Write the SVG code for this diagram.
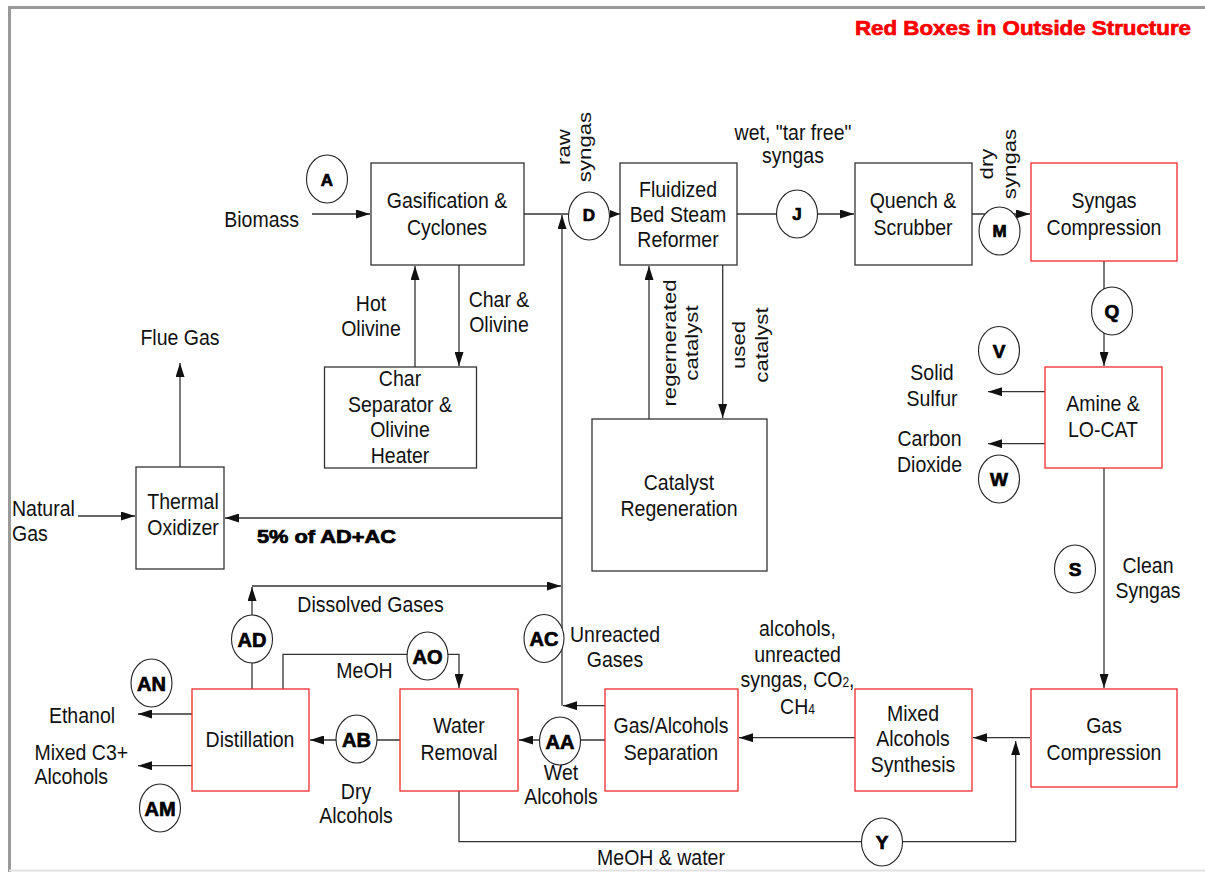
<svg xmlns="http://www.w3.org/2000/svg" width="1205" height="872" viewBox="0 0 1205 872">
<style>
.t{font-family:"Liberation Sans",Arial,sans-serif;font-size:19.5px;fill:#111}
.r{font-family:"Liberation Sans",Arial,sans-serif;font-size:19px;fill:#111}
.m{text-anchor:middle}
.bx{fill:#fff;stroke:#333;stroke-width:1.3}
.rb{fill:#fff;stroke:#ee2a2a;stroke-width:1.3}
.cl{fill:#fff;stroke:#222;stroke-width:1.1}
.lt{font-family:"Liberation Sans",Arial,sans-serif;font-weight:bold;fill:#000;stroke:#000;stroke-width:0.7;text-anchor:middle}
.s1{font-size:17px}
.s2{font-size:19px}
.s3{font-size:20px}
.ln{fill:none;stroke:#333;stroke-width:1.3}
.a{marker-end:url(#ah)}
</style>
<defs>
<marker id="ah" markerWidth="14" markerHeight="9" refX="14" refY="4.5" orient="auto" markerUnits="userSpaceOnUse"><path d="M0,0 L14,4.5 L0,9 z" fill="#111"/></marker>
<marker id="ahs" markerWidth="10" markerHeight="8" refX="10" refY="4" orient="auto" markerUnits="userSpaceOnUse"><path d="M0,0 L10,4 L0,8 z" fill="#111"/></marker>
</defs>
<rect x="0" y="0" width="1205" height="872" fill="#fff"/>
<path d="M1205,7.5 H9.5 V872" fill="none" stroke="#9a9a9a" stroke-width="3"/>
<path d="M9,870.5 H1205" fill="none" stroke="#e2e2e2" stroke-width="2"/>
<text x="855" y="35" textLength="336" lengthAdjust="spacingAndGlyphs" style="font-family:'Liberation Sans',Arial,sans-serif;font-weight:bold;font-size:20px;fill:#f00;stroke:#f00;stroke-width:0.7">Red Boxes in Outside Structure</text>

<g id="connectors">
<path class="ln a" d="M312,214 H370"/>
<path class="ln" d="M524,214 H568"/>
<path class="ln" d="M610,214 H620" marker-end="url(#ahs)"/>
<path class="ln" d="M737,214 H776"/>
<path class="ln a" d="M817,214 H854"/>
<path class="ln a" d="M972,214 H1030"/>
<path class="ln a" d="M1104,261 V366"/>
<path class="ln a" d="M1045,391.7 H988"/>
<path class="ln a" d="M1045,443.7 H988"/>
<path class="ln a" d="M1104,468 V688"/>
<path class="ln a" d="M1030,737.7 H973"/>
<path class="ln a" d="M855,737.7 H739"/>
<path class="ln a" d="M605,740 H519"/>
<path class="ln a" d="M400,740 H310"/>
<path class="ln a" d="M192,714 H138"/>
<path class="ln a" d="M192,765.7 H138"/>
<path class="ln a" d="M283,689 V654.3 H459 V688"/>
<path class="ln a" d="M252,689 V587"/>
<path class="ln a" d="M252,586 H561"/>
<path class="ln a" d="M605,705.7 H563"/>
<path class="ln a" d="M562,705.7 V215"/>
<path class="ln a" d="M562,518 H225"/>
<path class="ln a" d="M78,516 H135"/>
<path class="ln a" d="M180,467 V363"/>
<path class="ln a" d="M415,367 V266"/>
<path class="ln a" d="M459,265 V366"/>
<path class="ln a" d="M649,419 V266"/>
<path class="ln a" d="M722.7,265 V418"/>
<path class="ln a" d="M459,791 V841.7 H1015.7 V741"/>
</g>

<g id="labels">
<text class="t" text-anchor="end" transform="matrix(1,0,0,1.17,299,227)">Biomass</text>
<text class="t" transform="matrix(1,0,0,1.17,12,516)"><tspan x="0" y="0">Natural</tspan><tspan x="0" y="21.37">Gas</tspan></text>
<text class="t m" transform="matrix(1,0,0,1.17,180,345)">Flue Gas</text>
<text class="t m" transform="matrix(1,0,0,1.17,371,310.7)"><tspan x="0" y="0">Hot</tspan><tspan x="0" y="21.37">Olivine</tspan></text>
<text class="t m" transform="matrix(1,0,0,1.17,499,306.7)"><tspan x="0" y="0">Char &amp;</tspan><tspan x="0" y="21.37">Olivine</tspan></text>
<text class="r m" transform="matrix(0,-1.17,1,0,570,147)"><tspan x="0" y="0">raw</tspan><tspan x="0" y="21">syngas</tspan></text>
<text class="r m" transform="matrix(0,-1.17,1,0,993,164)"><tspan x="0" y="0">dry</tspan><tspan x="0" y="23">syngas</tspan></text>
<text class="r m" transform="matrix(0,-1.17,1,0,676,343)"><tspan x="0" y="0">regernerated</tspan><tspan x="0" y="22">catalyst</tspan></text>
<text class="r m" transform="matrix(0,-1.17,1,0,745,345)"><tspan x="0" y="0">used</tspan><tspan x="0" y="23">catalyst</tspan></text>
<text class="t m" transform="matrix(1,0,0,1.17,793,140)"><tspan x="0" y="0">wet, "tar free"</tspan><tspan x="0" y="20.09">syngas</tspan></text>
<text class="t m" transform="matrix(1,0,0,1.17,932,380)"><tspan x="0" y="0">Solid</tspan><tspan x="0" y="22.22">Sulfur</tspan></text>
<text class="t m" transform="matrix(1,0,0,1.17,929.5,445.7)"><tspan x="0" y="0">Carbon</tspan><tspan x="0" y="22.22">Dioxide</tspan></text>
<text class="t m" transform="matrix(1,0,0,1.17,1148,572.5)"><tspan x="0" y="0">Clean</tspan><tspan x="0" y="21.79">Syngas</tspan></text>
<text transform="translate(257,543)" textLength="139" lengthAdjust="spacingAndGlyphs" style="font-family:'Liberation Sans',Arial,sans-serif;font-weight:bold;font-size:18.5px;fill:#000;stroke:#000;stroke-width:0.7">5% of AD+AC</text>
<text class="t m" transform="matrix(1,0,0,1.17,370.5,611.7)">Dissolved Gases</text>
<text class="t m" transform="matrix(1,0,0,1.17,615,641.7)"><tspan x="0" y="0">Unreacted</tspan><tspan x="0" y="21.37">Gases</tspan></text>
<text class="t m" transform="matrix(1,0,0,1.17,797.5,636)"><tspan x="0" y="0">alcohols,</tspan><tspan x="0" y="22.4">unreacted</tspan><tspan x="0" y="43.6">syngas, CO<tspan style="font-size:12px">2</tspan>,</tspan><tspan x="0" y="66.7">CH<tspan style="font-size:12px">4</tspan></tspan></text>
<text class="t m" transform="matrix(1,0,0,1.17,364.5,678)">MeOH</text>
<text class="t m" transform="matrix(1,0,0,1.17,82,722.7)">Ethanol</text>
<text class="t" transform="matrix(1,0,0,1.17,34.4,760)"><tspan x="0" y="0">Mixed C3+</tspan><tspan x="0" y="20.51">Alcohols</tspan></text>
<text class="t m" transform="matrix(1,0,0,1.17,356,799)"><tspan x="0" y="0">Dry</tspan><tspan x="0" y="20.51">Alcohols</tspan></text>
<text class="t m" transform="matrix(1,0,0,1.17,561,780)"><tspan x="0" y="0">Wet</tspan><tspan x="0" y="20.51">Alcohols</tspan></text>
<text class="t m" transform="matrix(1,0,0,1.17,661,865)">MeOH &amp; water</text>
</g>

<g id="gasification">
<rect class="bx" x="371" y="163" width="153" height="102"/>
<text class="t m" transform="matrix(1,0,0,1.17,447,208)"><tspan x="0" y="0">Gasification &amp;</tspan><tspan x="0" y="23.08">Cyclones</tspan></text>
</g>
<g id="reformer">
<rect class="bx" x="620" y="163" width="117" height="102"/>
<text class="t m" transform="matrix(1,0,0,1.17,678,196.5)"><tspan x="0" y="0">Fluidized</tspan><tspan x="0" y="21.79">Bed Steam</tspan><tspan x="0" y="43.58">Reformer</tspan></text>
</g>
<g id="quench">
<rect class="bx" x="855" y="163" width="117" height="102"/>
<text class="t m" transform="matrix(1,0,0,1.17,913,208)"><tspan x="0" y="0">Quench &amp;</tspan><tspan x="0" y="23.08">Scrubber</tspan></text>
</g>
<g id="syngas-compression">
<rect class="rb" x="1031" y="163" width="146" height="98"/>
<text class="t m" transform="matrix(1,0,0,1.17,1104,208)"><tspan x="0" y="0">Syngas</tspan><tspan x="0" y="23.08">Compression</tspan></text>
</g>
<g id="amine">
<rect class="rb" x="1045" y="367" width="117" height="101"/>
<text class="t m" transform="matrix(1,0,0,1.17,1103,411)"><tspan x="0" y="0">Amine &amp;</tspan><tspan x="0" y="22.22">LO-CAT</tspan></text>
</g>
<g id="gas-compression">
<rect class="rb" x="1031" y="689" width="146" height="98"/>
<text class="t m" transform="matrix(1,0,0,1.17,1104,733)"><tspan x="0" y="0">Gas</tspan><tspan x="0" y="23.08">Compression</tspan></text>
</g>
<g id="mixed-alcohols">
<rect class="rb" x="855" y="689" width="117" height="102"/>
<text class="t m" transform="matrix(1,0,0,1.17,913,721)"><tspan x="0" y="0">Mixed</tspan><tspan x="0" y="21.79">Alcohols</tspan><tspan x="0" y="43.58">Synthesis</tspan></text>
</g>
<g id="gas-alcohols-separation">
<rect class="rb" x="605" y="689" width="133" height="102"/>
<text class="t m" transform="matrix(1,0,0,1.17,671,733)"><tspan x="0" y="0">Gas/Alcohols</tspan><tspan x="0" y="23.08">Separation</tspan></text>
</g>
<g id="water-removal">
<rect class="rb" x="400" y="689" width="118" height="102"/>
<text class="t m" transform="matrix(1,0,0,1.17,459,733)"><tspan x="0" y="0">Water</tspan><tspan x="0" y="23.08">Removal</tspan></text>
</g>
<g id="distillation">
<rect class="rb" x="192" y="689" width="117" height="102"/>
<text class="t m" transform="matrix(1,0,0,1.17,250,747)">Distillation</text>
</g>
<g id="catalyst-regeneration">
<rect class="bx" x="592" y="419" width="175" height="152"/>
<text class="t m" transform="matrix(1,0,0,1.17,679,490)"><tspan x="0" y="0">Catalyst</tspan><tspan x="0" y="22.22">Regeneration</tspan></text>
</g>
<g id="char-separator">
<rect class="bx" x="324.5" y="367" width="152" height="101"/>
<text class="t m" transform="matrix(1,0,0,1.17,400,386)"><tspan x="0" y="0">Char</tspan><tspan x="0" y="21.97">Separator &amp;</tspan><tspan x="0" y="43.94">Olivine</tspan><tspan x="0" y="65.91">Heater</tspan></text>
</g>
<g id="thermal-oxidizer">
<rect class="bx" x="136" y="467" width="88" height="102"/>
<text class="t m" transform="matrix(1,0,0,1.17,183,509)"><tspan x="0" y="0">Thermal</tspan><tspan x="0" y="22.22">Oxidizer</tspan></text>
</g>

<g id="stream-A"><ellipse class="cl" cx="327" cy="179" rx="20.5" ry="24"/><text class="lt s1" x="327" y="186">A</text></g>
<g id="stream-D"><ellipse class="cl" cx="589" cy="216" rx="20.5" ry="24"/><text class="lt s1" x="589" y="221">D</text></g>
<g id="stream-J"><ellipse class="cl" cx="797" cy="214" rx="20.5" ry="24"/><text class="lt s1" x="797" y="220">J</text></g>
<g id="stream-M"><ellipse class="cl" cx="999.5" cy="231" rx="20.5" ry="24"/><text class="lt s1" x="999.5" y="237">M</text></g>
<g id="stream-Q"><ellipse class="cl" cx="1112" cy="311" rx="20.5" ry="24"/><text class="lt s2" x="1112" y="318">Q</text></g>
<g id="stream-V"><ellipse class="cl" cx="999" cy="350.5" rx="20.5" ry="24"/><text class="lt s2" x="999" y="357.5">V</text></g>
<g id="stream-W"><ellipse class="cl" cx="999" cy="479" rx="20.5" ry="24"/><text class="lt s2" x="999" y="486">W</text></g>
<g id="stream-S"><ellipse class="cl" cx="1075" cy="569" rx="20.5" ry="24"/><text class="lt s2" x="1075" y="576">S</text></g>
<g id="stream-Y"><ellipse class="cl" cx="882" cy="842" rx="20.5" ry="24"/><text class="lt s2" x="882" y="849">Y</text></g>
<g id="stream-AA"><ellipse class="cl" cx="560" cy="741" rx="20.5" ry="24"/><text class="lt s3" x="560" y="748.5">AA</text></g>
<g id="stream-AB"><ellipse class="cl" cx="356.5" cy="739" rx="20.5" ry="24"/><text class="lt s3" x="356.5" y="746.5">AB</text></g>
<g id="stream-AC"><ellipse class="cl" cx="544" cy="638.5" rx="20" ry="24"/><text class="lt s3" x="544" y="646">AC</text></g>
<g id="stream-AD"><ellipse class="cl" cx="252" cy="639" rx="20.5" ry="24"/><text class="lt s3" x="252" y="646.5">AD</text></g>
<g id="stream-AO"><ellipse class="cl" cx="427.5" cy="656" rx="20.5" ry="24"/><text class="lt s3" x="427.5" y="663.5">AO</text></g>
<g id="stream-AN"><ellipse class="cl" cx="151.5" cy="683" rx="20.5" ry="24"/><text class="lt s3" x="151.5" y="690.5">AN</text></g>
<g id="stream-AM"><ellipse class="cl" cx="160" cy="808" rx="20.5" ry="24"/><text class="lt s3" x="160" y="815.5">AM</text></g>
</svg>
